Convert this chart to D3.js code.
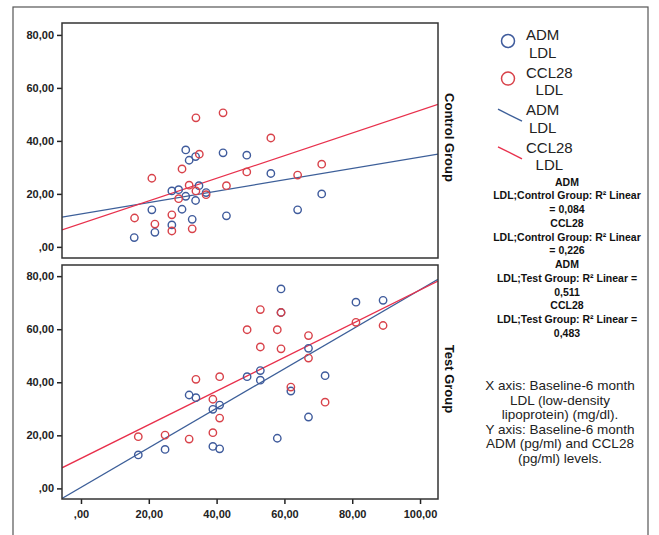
<!DOCTYPE html>
<html>
<head>
<meta charset="utf-8">
<script src="https://cdn.jsdelivr.net/npm/d3@7"></script>
<style>
  body { margin: 0; background: #fff; }
  svg { display: block; font-family: "Liberation Sans", Arial, sans-serif; }
</style>
</head>
<body>
<div id="chart"></div>
<script>
// control group: [LDL, value]
const controlADM = [
  [15.7, 3.5], [20.9, 14.0], [21.8, 5.5], [26.8, 21.1], [26.8, 8.3], [28.8, 21.6],
  [29.8, 14.2], [30.9, 36.6], [31.9, 32.7], [30.9, 19.1], [32.8, 10.4], [33.8, 34.1],
  [33.8, 17.5], [34.8, 23.1], [36.9, 20.5], [41.9, 35.5], [42.9, 11.7], [48.9, 34.6],
  [56.0, 27.7], [63.9, 14.0], [71.0, 20.0]
];
const controlCCL28 = [
  [15.8, 10.9], [20.9, 25.9], [21.8, 8.6], [26.8, 12.1], [26.8, 6.0], [28.8, 18.2],
  [29.8, 29.4], [31.9, 23.3], [33.9, 21.1], [32.8, 6.8], [33.9, 48.7], [34.9, 35.0],
  [36.9, 19.7], [41.9, 50.6], [42.9, 23.1], [48.9, 28.3], [56.0, 41.1], [63.9, 27.1],
  [71.0, 31.2]
];
// test group: [LDL, value]
const testADM = [
  [16.9, 12.6], [24.8, 14.7], [31.9, 35.2], [33.9, 34.2], [38.9, 29.8], [38.9, 15.8],
  [40.9, 31.4], [40.9, 14.9], [49.0, 42.1], [52.9, 44.4], [52.9, 40.8], [57.9, 18.9],
  [59.0, 75.2], [59.0, 66.3], [61.9, 36.7], [67.1, 52.8], [67.1, 26.9], [72.0, 42.5],
  [81.1, 70.2], [89.1, 70.9]
];
const testCCL28 = [
  [16.9, 19.5], [24.8, 20.1], [31.9, 18.6], [33.9, 41.1], [38.9, 33.6], [38.9, 21.0],
  [40.9, 42.1], [40.9, 26.5], [49.0, 59.8], [52.9, 67.4], [52.9, 53.3], [57.9, 59.8],
  [59.0, 66.3], [59.0, 52.6], [61.9, 38.2], [67.1, 57.6], [67.1, 49.1], [72.0, 32.5],
  [81.1, 62.6], [89.1, 61.4]
];
// linear fits: [intercept, slope]
const fitControlADM = [12.4, 0.215];
const fitControlCCL28 = [8.8, 0.427];
const fitTestADM = [0.4, 0.745];
const fitTestCCL28 = [11.3, 0.635];

const xTicks = [0, 20, 40, 60, 80, 100];
const yTicks = [0, 20, 40, 60, 80];
const panelNames = ['Control Group', 'Test Group'];
const legendLabels = [['ADM', 'LDL'], ['CCL28', 'LDL'], ['ADM', 'LDL'], ['CCL28', 'LDL']];
const r2Lines = [
  'ADM', 'LDL;Control Group: R\u00b2 Linear', '= 0,084',
  'CCL28', 'LDL;Control Group: R\u00b2 Linear', '= 0,226',
  'ADM', 'LDL;Test Group: R\u00b2 Linear =', '0,511',
  'CCL28', 'LDL;Test Group: R\u00b2 Linear =', '0,483'
];
const noteLines = [
  'X axis: Baseline-6 month', 'LDL (low-density', 'lipoprotein) (mg/dl).',
  'Y axis: Baseline-6 month', 'ADM (pg/ml) and CCL28', '(pg/ml) levels.'
];

const blue = '#3f5b9c';
const red = '#d8424a';
const blueLine = '#3d5f99';
const redLine = '#e8304c';

const width = 659, height = 535;
const svg = d3.select('#chart').append('svg')
  .attr('width', width).attr('height', height);

// outer frame
svg.append('rect')
  .attr('x', 13).attr('y', 7).attr('width', 635).attr('height', 540)
  .attr('fill', 'none').attr('stroke', '#555').attr('stroke-width', 1.2);

const fmt = (d) => d === 0 ? ',00' : d.toFixed(2).replace('.', ',');

const x = d3.scaleLinear().domain([-5.6, 105.3]).range([62, 438]);

const panels = [
  { name: panelNames[0], top: 23, bottom: 258, yDomain: [-4.2, 84.5],
    adm: controlADM, ccl: controlCCL28, fitA: fitControlADM, fitC: fitControlCCL28 },
  { name: panelNames[1], top: 265, bottom: 499, yDomain: [-4.0, 84.2],
    adm: testADM, ccl: testCCL28, fitA: fitTestADM, fitC: fitTestCCL28 }
];

function styleAxis(sel) {
  sel.select('.domain').remove();
  sel.selectAll('line').attr('stroke', '#222').attr('stroke-width', 1.5);
  sel.selectAll('text').attr('fill', '#222')
    .style('font-size', '11px').style('font-weight', 'bold')
    .style('font-family', '"Liberation Sans", Arial, sans-serif');
}

panels.forEach((p, i) => {
  const y = d3.scaleLinear().domain(p.yDomain).range([p.bottom, p.top]);
  const g = svg.append('g');

  g.append('clipPath').attr('id', 'clip' + i)
    .append('rect')
    .attr('x', 62).attr('y', p.top).attr('width', 376).attr('height', p.bottom - p.top);

  g.append('g')
    .attr('transform', 'translate(62,0)')
    .call(d3.axisLeft(y).tickValues(yTicks).tickFormat(fmt).tickSize(5).tickPadding(3))
    .call(styleAxis);

  if (i === 1) {
    g.append('g')
      .attr('transform', `translate(0,${p.bottom})`)
      .call(d3.axisBottom(x).tickValues(xTicks).tickFormat(fmt).tickSize(5).tickPadding(6))
      .call(styleAxis);
  }

  const plot = g.append('g').attr('clip-path', `url(#clip${i})`);

  [[p.fitA, blueLine], [p.fitC, redLine]].forEach(([f, c]) => {
    const xd = x.domain();
    plot.append('line')
      .attr('x1', x(xd[0])).attr('y1', y(f[0] + f[1] * xd[0]))
      .attr('x2', x(xd[1])).attr('y2', y(f[0] + f[1] * xd[1]))
      .attr('stroke', c).attr('stroke-width', 1.3);
  });

  [[p.adm, blue], [p.ccl, red]].forEach(([data, c]) => {
    plot.selectAll(null)
      .data(data)
      .enter()
      .append('circle')
      .attr('cx', (d) => x(d[0]))
      .attr('cy', (d) => y(d[1]))
      .attr('r', 3.7)
      .attr('fill', 'none')
      .attr('stroke', c)
      .attr('stroke-width', 1.4);
  });

  g.append('rect')
    .attr('x', 62).attr('y', p.top).attr('width', 376).attr('height', p.bottom - p.top)
    .attr('fill', 'none').attr('stroke', '#333').attr('stroke-width', 1.5);

  g.append('text')
    .attr('transform', `translate(445,${(p.top + p.bottom) / 2 - 3}) rotate(90)`)
    .attr('text-anchor', 'middle')
    .style('font-size', '13px')
    .style('font-weight', 'bold')
    .attr('fill', '#111')
    .text(p.name);
});

// legend
legendLabels.forEach((lab, i) => {
  const base = 40 + i * 37.6;
  const item = svg.append('g');
  if (i < 2) {
    item.append('circle')
      .attr('cx', 508).attr('cy', base + 1).attr('r', 6.5)
      .attr('fill', 'none').attr('stroke', i === 0 ? blue : red).attr('stroke-width', 1.5);
  } else {
    item.append('line')
      .attr('x1', 498).attr('y1', base - 6).attr('x2', 522).attr('y2', base + 6)
      .attr('stroke', i === 2 ? blueLine : redLine).attr('stroke-width', 1.4);
  }
  const texts = item.selectAll('text')
    .data(lab)
    .enter()
    .append('text')
    .attr('y', (d, j) => base + j * 17.5)
    .attr('text-anchor', 'middle')
    .style('font-size', '15px')
    .attr('fill', '#222')
    .text((d) => d);
  let maxW = 0;
  texts.each(function () { maxW = Math.max(maxW, this.getComputedTextLength()); });
  texts.attr('x', 526 + maxW / 2);
});

// R2 notes
svg.append('g').selectAll('text')
  .data(r2Lines)
  .enter()
  .append('text')
  .attr('x', 567)
  .attr('y', (d, i) => 185.5 + i * 13.75)
  .attr('text-anchor', 'middle')
  .style('font-size', '10.5px')
  .style('font-weight', 'bold')
  .attr('fill', '#111')
  .text((d) => d);

// axis description
svg.append('g').selectAll('text')
  .data(noteLines)
  .enter()
  .append('text')
  .attr('x', 560)
  .attr('y', (d, i) => 390 + i * 14.6)
  .attr('text-anchor', 'middle')
  .style('font-size', '13.5px')
  .attr('fill', '#222')
  .text((d) => d);
</script>
</body>
</html>
